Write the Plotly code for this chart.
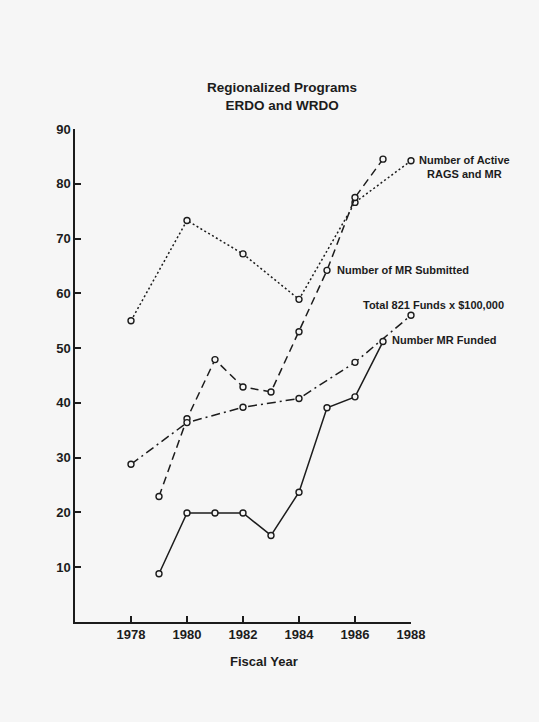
import plotly.graph_objects as go

# ---- data ----
active_years = [1978, 1980, 1982, 1984, 1986, 1988]
active_vals = [55, 73.3, 67.2, 58.9, 76.6, 84.2]

submitted_years = [1979, 1980, 1981, 1982, 1983, 1984, 1985, 1986, 1987]
submitted_vals = [22.9, 37.1, 47.9, 42.9, 42.0, 53.0, 64.2, 77.5, 84.5]

funds_years = [1978, 1980, 1982, 1984, 1986, 1988]
funds_vals = [28.8, 36.4, 39.2, 40.8, 47.4, 56.0]

funded_years = [1979, 1980, 1981, 1982, 1983, 1984, 1985, 1986, 1987]
funded_vals = [8.8, 19.9, 19.9, 19.9, 15.8, 23.7, 39.1, 41.1, 51.2]

x_ticks = [1978, 1980, 1982, 1984, 1986, 1988]
y_ticks = [10, 20, 30, 40, 50, 60, 70, 80, 90]

title_lines = ["Regionalized Programs", "ERDO and WRDO"]
x_title = "Fiscal Year"
series_labels = {
    "active": "Number of Active<br>RAGS and MR",
    "submitted": "Number of MR Submitted",
    "funds": "Total 821 Funds x $100,000",
    "funded": "Number MR Funded",
}

BG = "#f6f6f6"
INK = "#1c1c1c"
FONT = "Liberation Sans, Arial, Helvetica, sans-serif"

fig = go.Figure()

def add(xs, ys, dash):
    fig.add_trace(go.Scatter(
        x=xs, y=ys, mode="lines+markers",
        line=dict(color=INK, width=1.5, dash=dash),
        marker=dict(symbol="circle", size=6, color=BG,
                    line=dict(color=INK, width=1.4)),
        showlegend=False, cliponaxis=False,
    ))

add(active_years, active_vals, "2px,2.5px")
add(submitted_years, submitted_vals, "8px,5px")
add(funds_years, funds_vals, "9px,4px,2px,4px")
add(funded_years, funded_vals, "solid")

lab_font = dict(family=FONT, size=11, color=INK, weight="bold")
fig.add_annotation(xref="paper", yref="paper", x=1.158, y=0.923,
                   text=series_labels["active"], showarrow=False,
                   xanchor="center", yanchor="middle", align="center", font=lab_font)
fig.add_annotation(x=1985.27, y=64.2, text=series_labels["submitted"], showarrow=False,
                   xanchor="left", yanchor="middle", font=lab_font)
fig.add_annotation(x=1986.22, y=57.9, text=series_labels["funds"], showarrow=False,
                   xanchor="left", yanchor="middle", font=lab_font)
fig.add_annotation(x=1987.26, y=51.4, text=series_labels["funded"], showarrow=False,
                   xanchor="left", yanchor="middle", font=lab_font)

fig.add_annotation(xref="paper", yref="paper", x=0.6175, y=1.065,
                   text="<br>".join(title_lines), showarrow=False,
                   xanchor="center", yanchor="middle", align="center",
                   font=dict(family=FONT, size=13.5, color=INK, weight="bold"))
fig.add_annotation(xref="paper", yref="paper", x=0.5637, y=-0.0794,
                   text=x_title, showarrow=False, xanchor="center", yanchor="middle",
                   font=dict(family=FONT, size=13, color=INK, weight="bold"))

tick_font = dict(family=FONT, size=13, color=INK, weight="bold")
fig.update_xaxes(range=[1976, 1988], tickvals=x_ticks, ticktext=[str(v) for v in x_ticks],
                 showline=True, linecolor=INK, linewidth=1.5, ticks="inside",
                 ticklen=6, tickwidth=1.5, tickcolor=INK, showgrid=False,
                 zeroline=False, tickfont=tick_font)
fig.update_yaxes(range=[0, 90], tickvals=y_ticks, ticktext=[str(v) for v in y_ticks],
                 showline=True, linecolor=INK, linewidth=1.5, ticks="inside",
                 ticklen=6, tickwidth=1.5, tickcolor=INK, showgrid=False,
                 zeroline=False, tickfont=tick_font)

fig.update_layout(width=539, height=722,
                  margin=dict(l=75, r=127.5, t=129, b=99.5),
                  paper_bgcolor=BG, plot_bgcolor=BG)

fig.write_html("out.html", config={"displayModeBar": False},
               post_script="document.body.style.margin='0px';")
